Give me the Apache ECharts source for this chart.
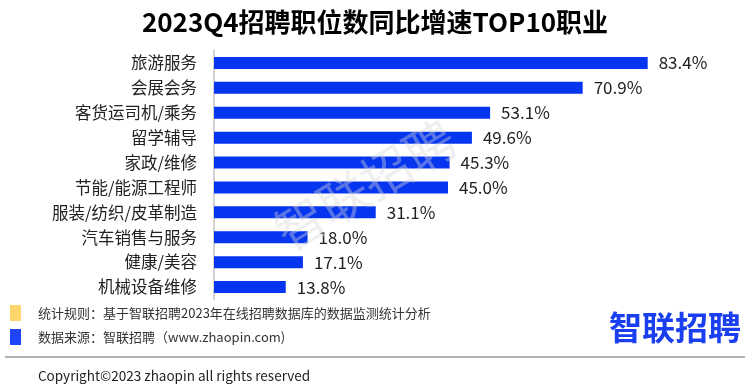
<!DOCTYPE html>
<html><head><meta charset="utf-8">
<script src="https://cdn.jsdelivr.net/npm/echarts@6/dist/echarts.min.js"></script>
<style>html,body{margin:0;padding:0;background:#fff}#c{width:750px;height:389px}</style>
</head><body><div id="c"></div>
<script>
const categories = ['旅游服务','会展会务','客货运司机/乘务','留学辅导','家政/维修','节能/能源工程师','服装/纺织/皮革制造','汽车销售与服务','健康/美容','机械设备维修'];
const values = [83.4, 70.9, 53.1, 49.6, 45.3, 45.0, 31.1, 18.0, 17.1, 13.8];
const titleText = '2023Q4招聘职位数同比增速TOP10职业';
const noteRule = '统计规则：基于智联招聘2023年在线招聘数据库的数据监测统计分析';
const noteSource = '数据来源：智联招聘（www.zhaopin.com)';
const copyright = 'Copyright©2023 zhaopin all rights reserved';
const F = '"Noto Sans CJK SC", "Noto Sans", sans-serif';
const chart = echarts.init(document.getElementById('c'));
chart.setOption({
  backgroundColor: '#fff',
  animation: false,
  title: { text: titleText, left: 'center', top: 4, textStyle: { fontFamily: F, fontSize: 26, fontWeight: 'bold', color: '#000' } },
  grid: { left: 214, top: 50.5, width: 520, height: 249 },
  xAxis: { type: 'value', min: 0, max: 100, show: false },
  yAxis: { type: 'category', data: categories, inverse: true,
    axisLine: { show: true, lineStyle: { color: '#d3d3d3', width: 2 } },
    axisTick: { show: false },
    axisLabel: { margin: 17, fontFamily: F, fontSize: 16.5, color: '#222' } },
  series: [{ type: 'bar', data: values, barWidth: 12,
    itemStyle: { color: '#0535ef' },
    label: { show: true, position: 'right', distance: 11, formatter: p => p.value.toFixed(1) + '%', fontFamily: F, fontSize: 17, color: '#222' } }],
  graphic: [
    { type: 'text', x: 365, y: 185, rotation: Math.PI/180*31, z: 100, silent: true,
      style: { text: '智联招聘', font: '50px ' + F, fill: 'rgba(215,215,215,0.4)', align: 'center', verticalAlign: 'middle' } },
    { type: 'rect', shape: { x: 10, y: 305, width: 11, height: 16 }, style: { fill: '#ffd66b' } },
    { type: 'text', x: 38, y: 313, style: { text: noteRule, font: '13px ' + F, fill: '#333', verticalAlign: 'middle' } },
    { type: 'rect', shape: { x: 10, y: 329, width: 11, height: 16 }, style: { fill: '#1f44f5' } },
    { type: 'text', x: 38, y: 337, style: { text: noteSource, font: '13px ' + F, fill: '#333', verticalAlign: 'middle' } },
    { type: 'text', x: 741, y: 327, style: { text: '智联招聘', font: 'bold 33px ' + F, fill: '#1a3ff0', align: 'right', verticalAlign: 'middle' } },
    { type: 'line', shape: { x1: 5, y1: 357, x2: 745, y2: 357 }, style: { stroke: '#999', lineWidth: 1.5 } },
    { type: 'text', x: 38, y: 376, style: { text: copyright, font: '13.5px ' + F, fill: '#222', verticalAlign: 'middle' } }
  ]
});
</script></body></html>
